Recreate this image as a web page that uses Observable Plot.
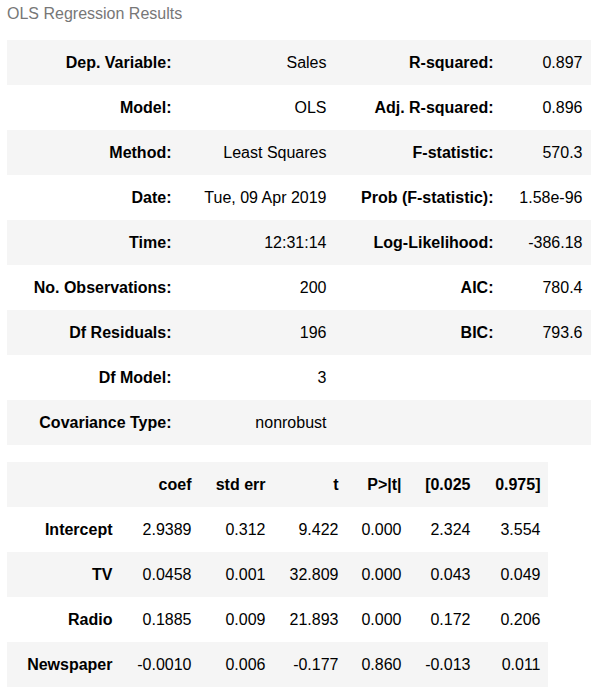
<!DOCTYPE html>
<html>
<head>
<meta charset="utf-8">
<script src="https://cdn.jsdelivr.net/npm/d3@7"></script>
<script src="https://cdn.jsdelivr.net/npm/@observablehq/plot@0.6"></script>
<style>
  body { margin: 0; background: #fff; font-family: "Liberation Sans", Arial, sans-serif; }
  #title { height: 40px; line-height: 28px; padding-left: 7px; color: #777; font-size: 16px; }
  #gap { height: 15px; }
  svg { display: block; }
</style>
</head>
<body>
<div id="title">OLS Regression Results</div>
<div id="summary"></div>
<div id="gap"></div>
<div id="coefs"></div>
<script>
// summary table
const leftLabels = ["Dep. Variable:", "Model:", "Method:", "Date:", "Time:", "No. Observations:", "Df Residuals:", "Df Model:", "Covariance Type:"];
const leftValues = ["Sales", "OLS", "Least Squares", "Tue, 09 Apr 2019", "12:31:14", "200", "196", "3", "nonrobust"];
const rightLabels = ["R-squared:", "Adj. R-squared:", "F-statistic:", "Prob (F-statistic):", "Log-Likelihood:", "AIC:", "BIC:", "", ""];
const rightValues = ["0.897", "0.896", "570.3", "1.58e-96", "-386.18", "780.4", "793.6", "", ""];

// coefficient table
const coefHeader = ["", "coef", "std err", "t", "P>|t|", "[0.025", "0.975]"];
const terms = ["Intercept", "TV", "Radio", "Newspaper"];
const coef = ["2.9389", "0.0458", "0.1885", "-0.0010"];
const stdErr = ["0.312", "0.001", "0.009", "0.006"];
const tVals = ["9.422", "32.809", "21.893", "-0.177"];
const pVals = ["0.000", "0.000", "0.000", "0.860"];
const lower = ["2.324", "0.043", "0.172", "-0.013"];
const upper = ["3.554", "0.049", "0.206", "0.011"];

const stripe = "#f5f5f5";
const font = "'Liberation Sans', Arial, sans-serif";

// right edges of columns
const summaryCols = [171, 326, 493, 582];
const coefCols = [112, 191, 265, 338, 401, 470, 540];

// summary table
const sumRows = leftLabels.map((l, i) => ({i, cells: [l, leftValues[i], rightLabels[i], rightValues[i]]}));
const sumText = sumRows.flatMap(r => r.cells.map((c, j) => ({i: r.i, col: j, text: c, bold: j % 2 === 0})));

const summaryPlot = Plot.plot({
  width: 591, height: 405,
  margin: 0,
  x: {domain: [0, 591], range: [0, 591], axis: null},
  y: {type: "band", domain: d3.range(leftLabels.length), range: [0, 405], padding: 0, axis: null},
  style: {fontFamily: font, fontSize: "16px", background: "transparent"},
  marks: [
    Plot.barX(sumRows.filter(r => r.i % 2 === 0), {y: "i", x1: 7, x2: 591, fill: stripe}),
    Plot.text(sumText.filter(d => d.bold), {y: "i", x: d => summaryCols[d.col], text: "text", textAnchor: "end", fill: "black", fontWeight: "bold"}),
    Plot.text(sumText.filter(d => !d.bold), {y: "i", x: d => summaryCols[d.col], text: "text", textAnchor: "end", fill: "black"})
  ]
});
document.getElementById("summary").append(summaryPlot);

// coefficients table
const coefRows = [{i: 0, cells: coefHeader, header: true}].concat(
  terms.map((t, k) => ({i: k + 1, cells: [t, coef[k], stdErr[k], tVals[k], pVals[k], lower[k], upper[k]], header: false}))
);
const coefText = coefRows.flatMap(r => r.cells.map((c, j) => ({i: r.i, col: j, text: c, bold: r.header || j === 0})));

const coefPlot = Plot.plot({
  width: 591, height: 228,
  margin: 0,
  x: {domain: [0, 591], range: [0, 591], axis: null},
  y: {type: "band", domain: d3.range(coefRows.length), range: [0, 228], padding: 0, axis: null},
  style: {fontFamily: font, fontSize: "16px", background: "transparent"},
  marks: [
    Plot.barX(coefRows.filter(r => r.i % 2 === 0), {y: "i", x1: 7, x2: 548, fill: stripe}),
    Plot.text(coefText.filter(d => d.bold), {y: "i", x: d => coefCols[d.col], text: "text", textAnchor: "end", fill: "black", fontWeight: "bold"}),
    Plot.text(coefText.filter(d => !d.bold), {y: "i", x: d => coefCols[d.col], text: "text", textAnchor: "end", fill: "black"})
  ]
});
document.getElementById("coefs").append(coefPlot);
</script>
</body>
</html>
